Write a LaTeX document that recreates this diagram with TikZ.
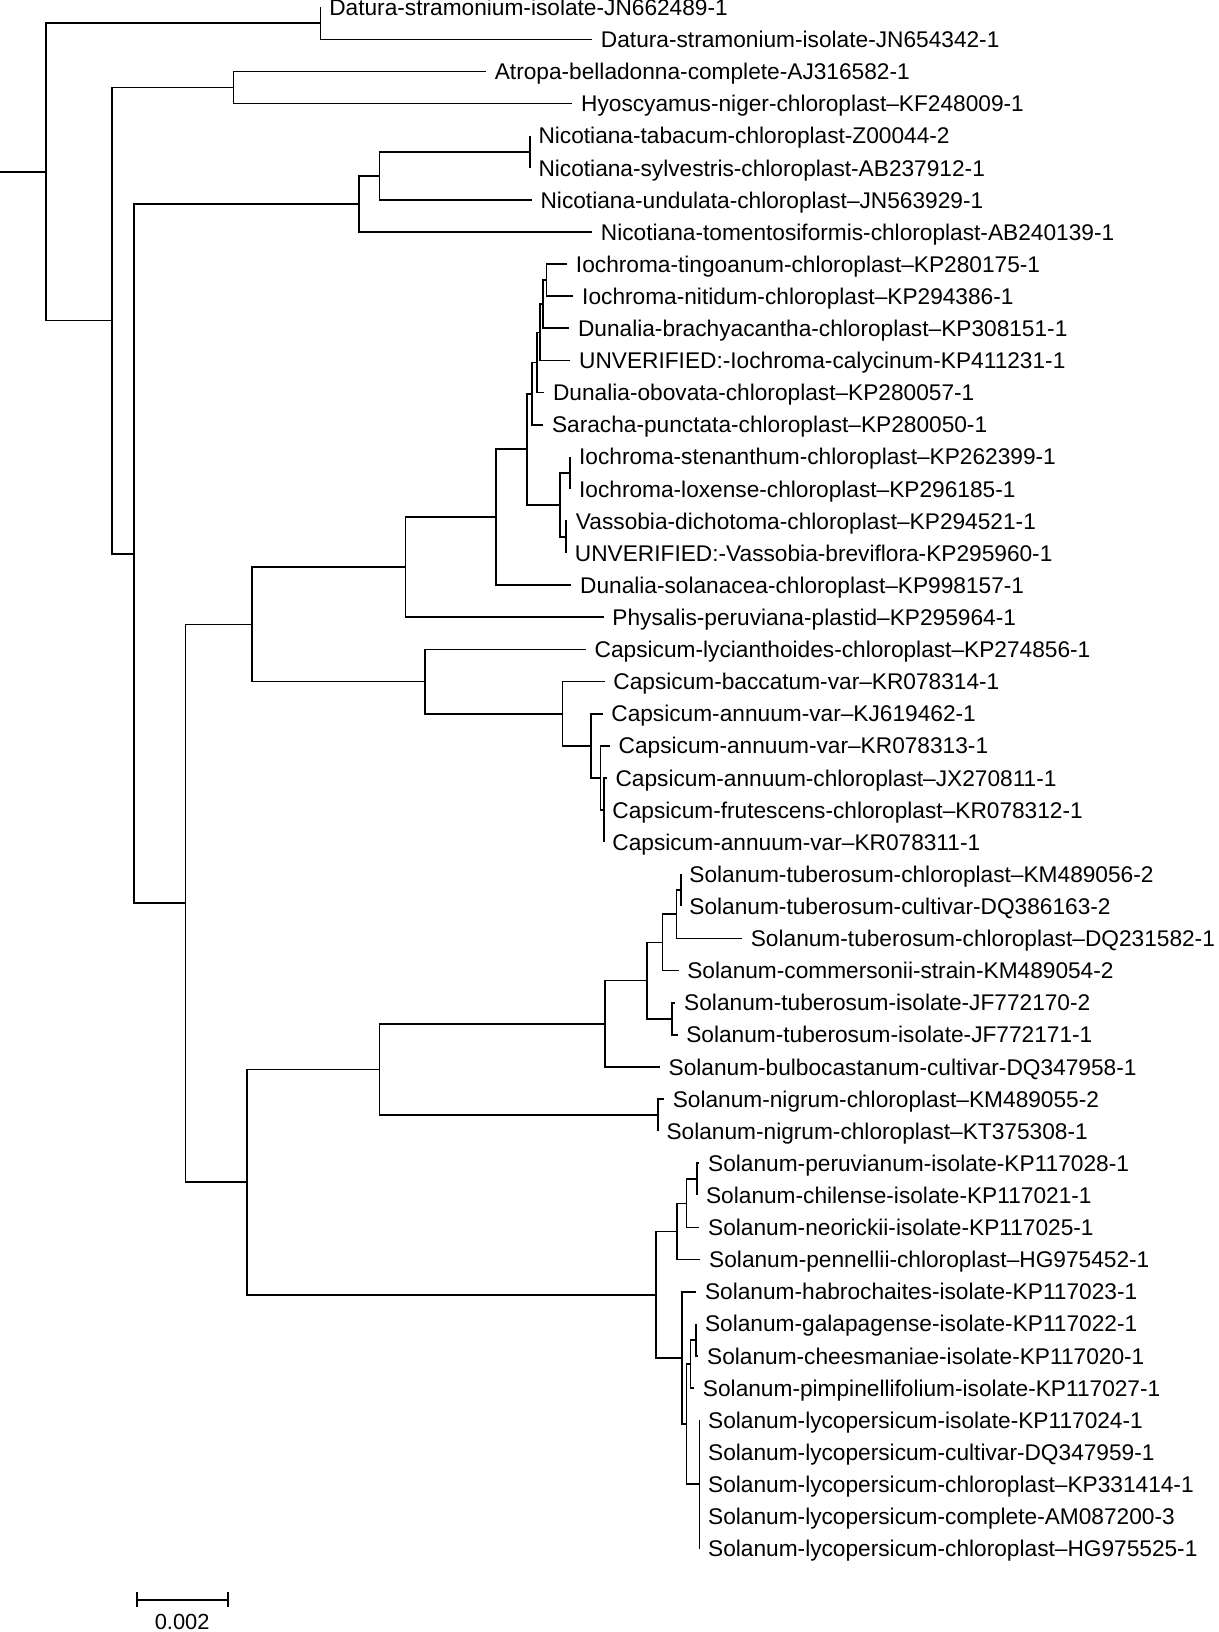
\documentclass[tikz,border=0pt]{standalone}
\usepackage{fontspec}
\setmainfont{Liberation Sans}
\usetikzlibrary{arrows.meta}
\tikzset{
  leaf/.style={anchor=west, inner xsep=4pt, inner ysep=0pt, text height=7.85pt, text depth=0pt, font=\fontsize{10.9}{13}\selectfont},
  branch/.style={line width=0.85pt},
}
\begin{document}
\begin{tikzpicture}[x=0.5pt,y=-0.5pt]
\useasboundingbox (0,0) rectangle (1171,1568);

\node [leaf] (l1) at (308,7) {Datura-stramonium-isolate-JN662489-1};
\node [leaf] (l2) at (569,37.85) {Datura-stramonium-isolate-JN654342-1};
\node [leaf] (l3) at (467,68.7) {Atropa-belladonna-complete-AJ316582-1};
\node [leaf] (l4) at (550,99.55) {Hyoscyamus-niger-chloroplast–KF248009-1};
\node [leaf] (l5) at (509,130.4) {Nicotiana-tabacum-chloroplast-Z00044-2};
\node [leaf] (l6) at (509,161.25) {Nicotiana-sylvestris-chloroplast-AB237912-1};
\node [leaf] (l7) at (511,192.1) {Nicotiana-undulata-chloroplast–JN563929-1};
\node [leaf] (l8) at (569,222.95) {Nicotiana-tomentosiformis-chloroplast-AB240139-1};
\node [leaf] (l9) at (545,253.8) {Iochroma-tingoanum-chloroplast–KP280175-1};
\node [leaf] (l10) at (551,284.65) {Iochroma-nitidum-chloroplast–KP294386-1};
\node [leaf] (l11) at (547,315.5) {Dunalia-brachyacantha-chloroplast–KP308151-1};
\node [leaf] (l12) at (548,346.35) {UNVERIFIED:-Iochroma-calycinum-KP411231-1};
\node [leaf] (l13) at (523,377.2) {Dunalia-obovata-chloroplast–KP280057-1};
\node [leaf] (l14) at (522,408.05) {Saracha-punctata-chloroplast–KP280050-1};
\node [leaf] (l15) at (548,438.9) {Iochroma-stenanthum-chloroplast–KP262399-1};
\node [leaf] (l16) at (548,469.75) {Iochroma-loxense-chloroplast–KP296185-1};
\node [leaf] (l17) at (545,500.6) {Vassobia-dichotoma-chloroplast–KP294521-1};
\node [leaf] (l18) at (544,531.45) {UNVERIFIED:-Vassobia-breviflora-KP295960-1};
\node [leaf] (l19) at (549,562.3) {Dunalia-solanacea-chloroplast–KP998157-1};
\node [leaf] (l20) at (580,593.15) {Physalis-peruviana-plastid–KP295964-1};
\node [leaf] (l21) at (563,624) {Capsicum-lycianthoides-chloroplast–KP274856-1};
\node [leaf] (l22) at (581,654.85) {Capsicum-baccatum-var–KR078314-1};
\node [leaf] (l23) at (579,685.7) {Capsicum-annuum-var–KJ619462-1};
\node [leaf] (l24) at (586,716.55) {Capsicum-annuum-var–KR078313-1};
\node [leaf] (l25) at (583,747.4) {Capsicum-annuum-chloroplast–JX270811-1};
\node [leaf] (l26) at (580,778.25) {Capsicum-frutescens-chloroplast–KR078312-1};
\node [leaf] (l27) at (580,809.1) {Capsicum-annuum-var–KR078311-1};
\node [leaf] (l28) at (654,839.95) {Solanum-tuberosum-chloroplast–KM489056-2};
\node [leaf] (l29) at (654,870.8) {Solanum-tuberosum-cultivar-DQ386163-2};
\node [leaf] (l30) at (713,901.65) {Solanum-tuberosum-chloroplast–DQ231582-1};
\node [leaf] (l31) at (652,932.5) {Solanum-commersonii-strain-KM489054-2};
\node [leaf] (l32) at (649,963.35) {Solanum-tuberosum-isolate-JF772170-2};
\node [leaf] (l33) at (651,994.2) {Solanum-tuberosum-isolate-JF772171-1};
\node [leaf] (l34) at (634,1025.05) {Solanum-bulbocastanum-cultivar-DQ347958-1};
\node [leaf] (l35) at (638,1055.9) {Solanum-nigrum-chloroplast–KM489055-2};
\node [leaf] (l36) at (632,1086.75) {Solanum-nigrum-chloroplast–KT375308-1};
\node [leaf] (l37) at (672,1117.6) {Solanum-peruvianum-isolate-KP117028-1};
\node [leaf] (l38) at (670,1148.45) {Solanum-chilense-isolate-KP117021-1};
\node [leaf] (l39) at (672,1179.3) {Solanum-neorickii-isolate-KP117025-1};
\node [leaf] (l40) at (673,1210.15) {Solanum-pennellii-chloroplast–HG975452-1};
\node [leaf] (l41) at (669,1241) {Solanum-habrochaites-isolate-KP117023-1};
\node [leaf] (l42) at (669,1271.85) {Solanum-galapagense-isolate-KP117022-1};
\node [leaf] (l43) at (671,1302.7) {Solanum-cheesmaniae-isolate-KP117020-1};
\node [leaf] (l44) at (667,1333.55) {Solanum-pimpinellifolium-isolate-KP117027-1};
\node [leaf] (l45) at (672,1364.4) {Solanum-lycopersicum-isolate-KP117024-1};
\node [leaf] (l46) at (672,1395.25) {Solanum-lycopersicum-cultivar-DQ347959-1};
\node [leaf] (l47) at (672,1426.1) {Solanum-lycopersicum-chloroplast–KP331414-1};
\node [leaf] (l48) at (672,1456.95) {Solanum-lycopersicum-complete-AM087200-3};
\node [leaf] (l49) at (672,1487.8) {Solanum-lycopersicum-chloroplast–HG975525-1};

\coordinate (stub) at (0,165.2);
\coordinate (nRoot) at (44.1,165.2);
\coordinate (nDat) at (308,22.4);
\coordinate (nB) at (107.7,308);
\coordinate (nAH) at (224.3,84.1);
\coordinate (nC) at (128.7,532);
\coordinate (nN1) at (344.9,196);
\coordinate (nN2) at (364.7,169);
\coordinate (nN3) at (509,145.8);
\coordinate (nD) at (178.3,867.9);
\coordinate (nE) at (241.9,600);
\coordinate (nF) at (389.7,545.1);
\coordinate (nG) at (476.8,497);
\coordinate (nH) at (506.6,431.7);
\coordinate (nA5) at (511,378.2);
\coordinate (nA4) at (516,348.3);
\coordinate (nA3) at (519,319.4);
\coordinate (nA2) at (522,292.4);
\coordinate (nA1) at (525,269.2);
\coordinate (nL) at (538,485.2);
\coordinate (nL1) at (548,454.3);
\coordinate (nL2) at (544,516);
\coordinate (nK0) at (408,654.85);
\coordinate (nK1) at (540.4,685.7);
\coordinate (nK2) at (568,716.55);
\coordinate (nK3) at (577,747.4);
\coordinate (nK4) at (580,778.25);
\coordinate (nI) at (237,1135.7);
\coordinate (nS0) at (364.7,1027.5);
\coordinate (nS1) at (581.2,983.6);
\coordinate (nS2) at (621.8,942.1);
\coordinate (nS3) at (636.6,905.5);
\coordinate (nS4) at (650,878.5);
\coordinate (nS5) at (654,855.4);
\coordinate (nS6) at (646,978.8);
\coordinate (nNg) at (632,1071.3);
\coordinate (nM0) at (630.2,1243.9);
\coordinate (nM1) at (650.7,1183.2);
\coordinate (nM2) at (659.6,1156.2);
\coordinate (nM3) at (670,1133);
\coordinate (nM4) at (655.5,1304.6);
\coordinate (nP3) at (659.5,1368.3);
\coordinate (nP2) at (663.5,1310.4);
\coordinate (nP1) at (669,1287.3);
\coordinate (nQ) at (672,1426.1);

\draw [branch] (stub) -- (nRoot);
\foreach \a/\b in {nRoot/nDat, nRoot/nB, nB/nAH, nB/nC, nC/nN1, nC/nD, nN1/nN2, nN2/nN3,
  nD/nE, nD/nI, nE/nF, nE/nK0, nF/nG, nG/nH, nH/nA5, nH/nL, nA5/nA4, nA4/nA3, nA3/nA2,
  nA2/nA1, nL/nL1, nL/nL2, nK0/nK1, nK1/nK2, nK2/nK3, nK3/nK4, nI/nS0, nI/nM0, nS0/nS1,
  nS0/nNg, nS1/nS2, nS2/nS3, nS2/nS6, nS3/nS4, nS4/nS5, nM0/nM1, nM0/nM4, nM1/nM2,
  nM2/nM3, nM4/nP3, nP3/nP2, nP3/nQ, nP2/nP1}
  \draw [branch] (\a) |- (\b);
\foreach \a/\b in {nDat/1, nDat/2, nAH/3, nAH/4, nN3/5, nN3/6, nN2/7, nN1/8, nA1/9, nA1/10,
  nA2/11, nA3/12, nA4/13, nA5/14, nL1/15, nL1/16, nL2/17, nL2/18, nG/19, nF/20, nK0/21,
  nK1/22, nK2/23, nK3/24, nK4/25, nK4/26, nK4/27, nS5/28, nS5/29, nS4/30, nS3/31, nS6/32,
  nS6/33, nS1/34, nNg/35, nNg/36, nM3/37, nM3/38, nM2/39, nM1/40, nM4/41, nP1/42, nP1/43,
  nP2/44, nQ/45, nQ/46, nQ/47, nQ/48, nQ/49}
  \draw [branch] (\a) |- (l\b.west);

\coordinate (barL) at (130.6,1537);
\coordinate (barR) at (219.7,1537);
\draw [branch, {Bar[width=7.3pt]}-{Bar[width=7.3pt]}] (barL) -- (barR);
\node [font=\fontsize{10.5}{12}\selectfont] (barlbl) at (175,1558) {0.002};

\end{tikzpicture}
\end{document}
